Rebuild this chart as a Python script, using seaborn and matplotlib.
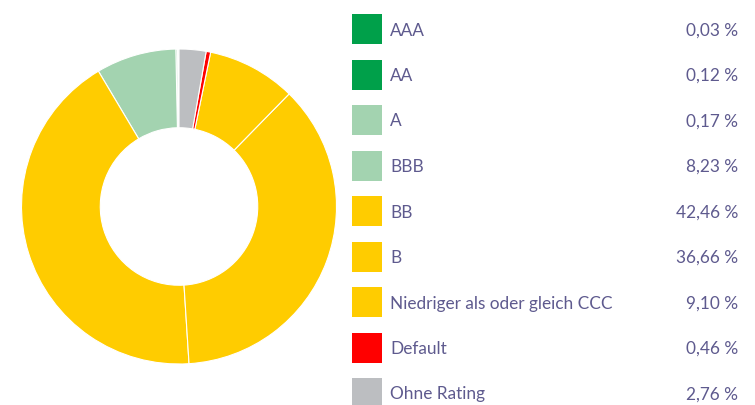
import matplotlib
matplotlib.use("Agg")
import matplotlib.pyplot as plt
import seaborn as sns
from matplotlib.patches import Rectangle

sns.set_theme(style="white")
plt.rcParams['font.family'] = ['Lato', 'DejaVu Sans']

categories = ["AAA", "AA", "A", "BBB", "BB", "B",
              "Niedriger als oder gleich CCC", "Default", "Ohne Rating"]
values = [0.03, 0.12, 0.17, 8.23, 42.46, 36.66, 9.10, 0.46, 2.76]
value_labels = ["0,03 %", "0,12 %", "0,17 %", "8,23 %", "42,46 %",
                "36,66 %", "9,10 %", "0,46 %", "2,76 %"]
colors = ["#00a04a", "#00a04a", "#a3d3b0", "#a3d3b0", "#ffcc00",
          "#ffcc00", "#ffcc00", "#ff0000", "#bcbec1"]

W, H = 755, 405
fig = plt.figure(figsize=(W / 100, H / 100), dpi=100)
fig.patch.set_facecolor("white")

cx, cy, r = 179, 206.5, 157.5
ax = fig.add_axes([(cx - r) / W, (H - cy - r) / H, 2 * r / W, 2 * r / H])
ax.pie(values, colors=colors, startangle=90, counterclock=True, radius=1,
       wedgeprops=dict(width=0.5, edgecolor="white", linewidth=0.8))
ax.set_xlim(-1, 1)
ax.set_ylim(-1, 1)
ax.set_aspect("equal")
ax.axis("off")

lax = fig.add_axes([0, 0, 1, 1])
lax.set_xlim(0, W)
lax.set_ylim(H, 0)
lax.axis("off")
text_color = "#5e5a8e"
y0, dy = 29, 45.5
for i, (cat, lab, col) in enumerate(zip(categories, value_labels, colors)):
    y = y0 + i * dy
    lax.add_patch(Rectangle((352, y - 15), 30, 30, facecolor=col, edgecolor="none"))
    lax.text(390, y + 1.5, cat, color=text_color, fontsize=12.4, va="center", ha="left")
    lax.text(738, y + 1.5, lab, color=text_color, fontsize=12.4, va="center", ha="right")

fig.savefig("out.png", dpi=100, facecolor="white")
